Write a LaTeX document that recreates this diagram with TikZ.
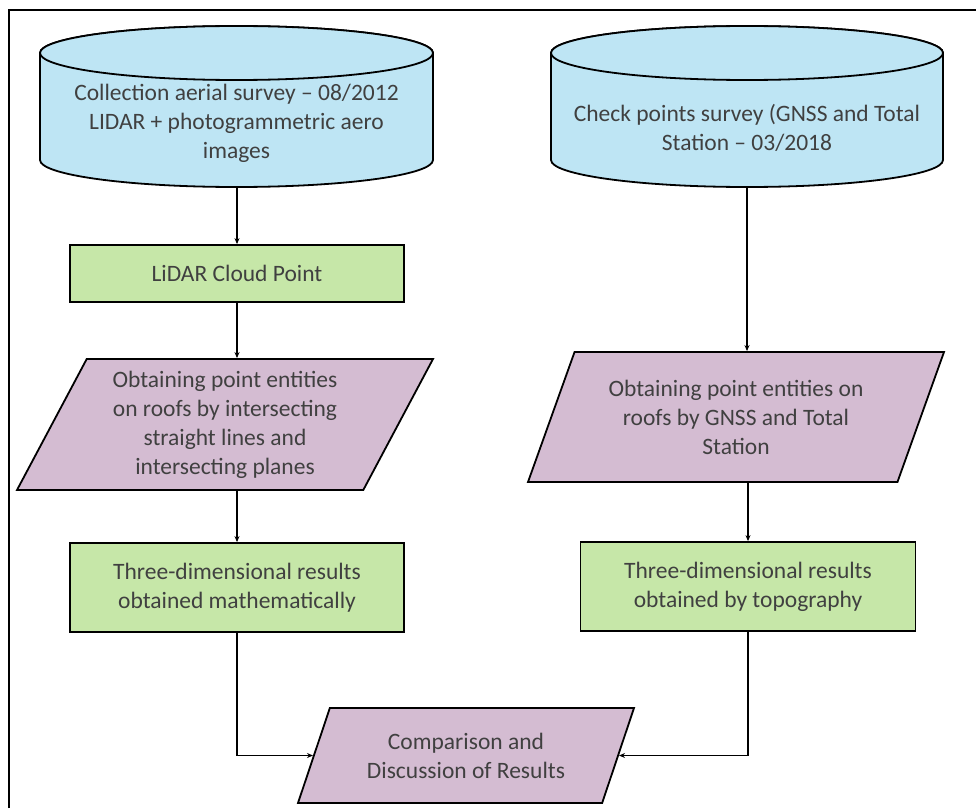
\documentclass[tikz,border=0pt]{standalone}
\usepackage{fontspec}
\setmainfont{Carlito}
\usetikzlibrary{shapes.geometric,arrows.meta,backgrounds}

\definecolor{dbblue}{HTML}{BEE5F4}
\definecolor{boxgreen}{HTML}{C6E7A8}
\definecolor{parapurple}{HTML}{D4BCD2}
\definecolor{txtgray}{HTML}{404040}

\tikzset{
  every node/.style={text=txtgray,font=\fontsize{23.5}{29}\selectfont,align=center},
  dbase/.style={draw=black,line width=1.8pt,fill=dbblue},
  stepbox/.style={draw=black,line width=1.8pt,fill=boxgreen,rectangle},
  iobox/.style={draw=black,line width=1.8pt,fill=parapurple,trapezium,
    trapezium stretches body,inner sep=0pt},
  flow/.style={line width=1.6pt,-{Stealth[length=6pt,width=5pt]}},
  frame/.style={line width=2pt}
}

\begin{document}
\begin{tikzpicture}[x=1pt,y=-1pt]
\useasboundingbox (0,0) rectangle (976,808);
\draw[frame] (9,808)--(9,10)--(976,10);

% data sources
\draw[dbase] (40,53)--(40,160) arc[start angle=180,end angle=360,x radius=196.5pt,y radius=27pt]--(433,53) arc[start angle=0,end angle=180,x radius=196.5pt,y radius=27pt]--cycle;
\draw[dbase] (236.5,53) ellipse [x radius=196.5pt,y radius=27pt];
\draw[dbase] (551,53)--(551,160) arc[start angle=180,end angle=360,x radius=196pt,y radius=27pt]--(943,53) arc[start angle=0,end angle=180,x radius=196pt,y radius=27pt]--cycle;
\draw[dbase] (747,53) ellipse [x radius=196pt,y radius=27pt];

\node (survey) at (236.5,123.5) [minimum width=393pt,minimum height=127pt,inner sep=0pt]{Collection aerial survey -- 08/2012\\LIDAR + photogrammetric aero\\images};
\node (check) at (747,128) [minimum width=392pt,minimum height=118pt,inner sep=0pt]{Check points survey (GNSS and Total\\Station -- 03/2018};

% left branch
\node (lidar) at (237,273.5) [stepbox,minimum width=334pt,minimum height=57pt]{LiDAR Cloud Point};
\node (objmath) at (225,424.5) [iobox,trapezium left angle=57,trapezium right angle=123,
  minimum width=416pt,minimum height=131pt]{Obtaining point entities\\on roofs by intersecting\\straight lines and\\intersecting planes};
\node (math) at (237,587.5) [stepbox,minimum width=334pt,minimum height=89pt]{Three-dimensional results\\obtained mathematically};

% right branch
\node (objgnss) at (736,417) [iobox,trapezium left angle=58,trapezium right angle=122,
  minimum width=416pt,minimum height=130pt]{Obtaining point entities on\\roofs by GNSS and Total\\Station};
\node (topo) at (748,586.5) [stepbox,minimum width=335pt,minimum height=89pt]{Three-dimensional results\\obtained by topography};

\node (compare) at (466,755.5) [iobox,trapezium left angle=55,trapezium right angle=125,
  minimum width=336pt,minimum height=95pt]{Comparison and\\Discussion of Results};

\draw[flow] (lidar.north |- survey.south)--(lidar.north);
\draw[flow] (lidar.south)--(lidar.south |- objmath.north);
\draw[flow] (math.north |- objmath.south)--(math.north);
\draw[flow] (check.south)--(check.south |- objgnss.north);
\draw[flow] (topo.north |- objgnss.south)--(topo.north);
\draw[flow] (math.south) |- (compare.west);
\draw[flow] (topo.south) |- (compare.east);

\end{tikzpicture}
\end{document}
